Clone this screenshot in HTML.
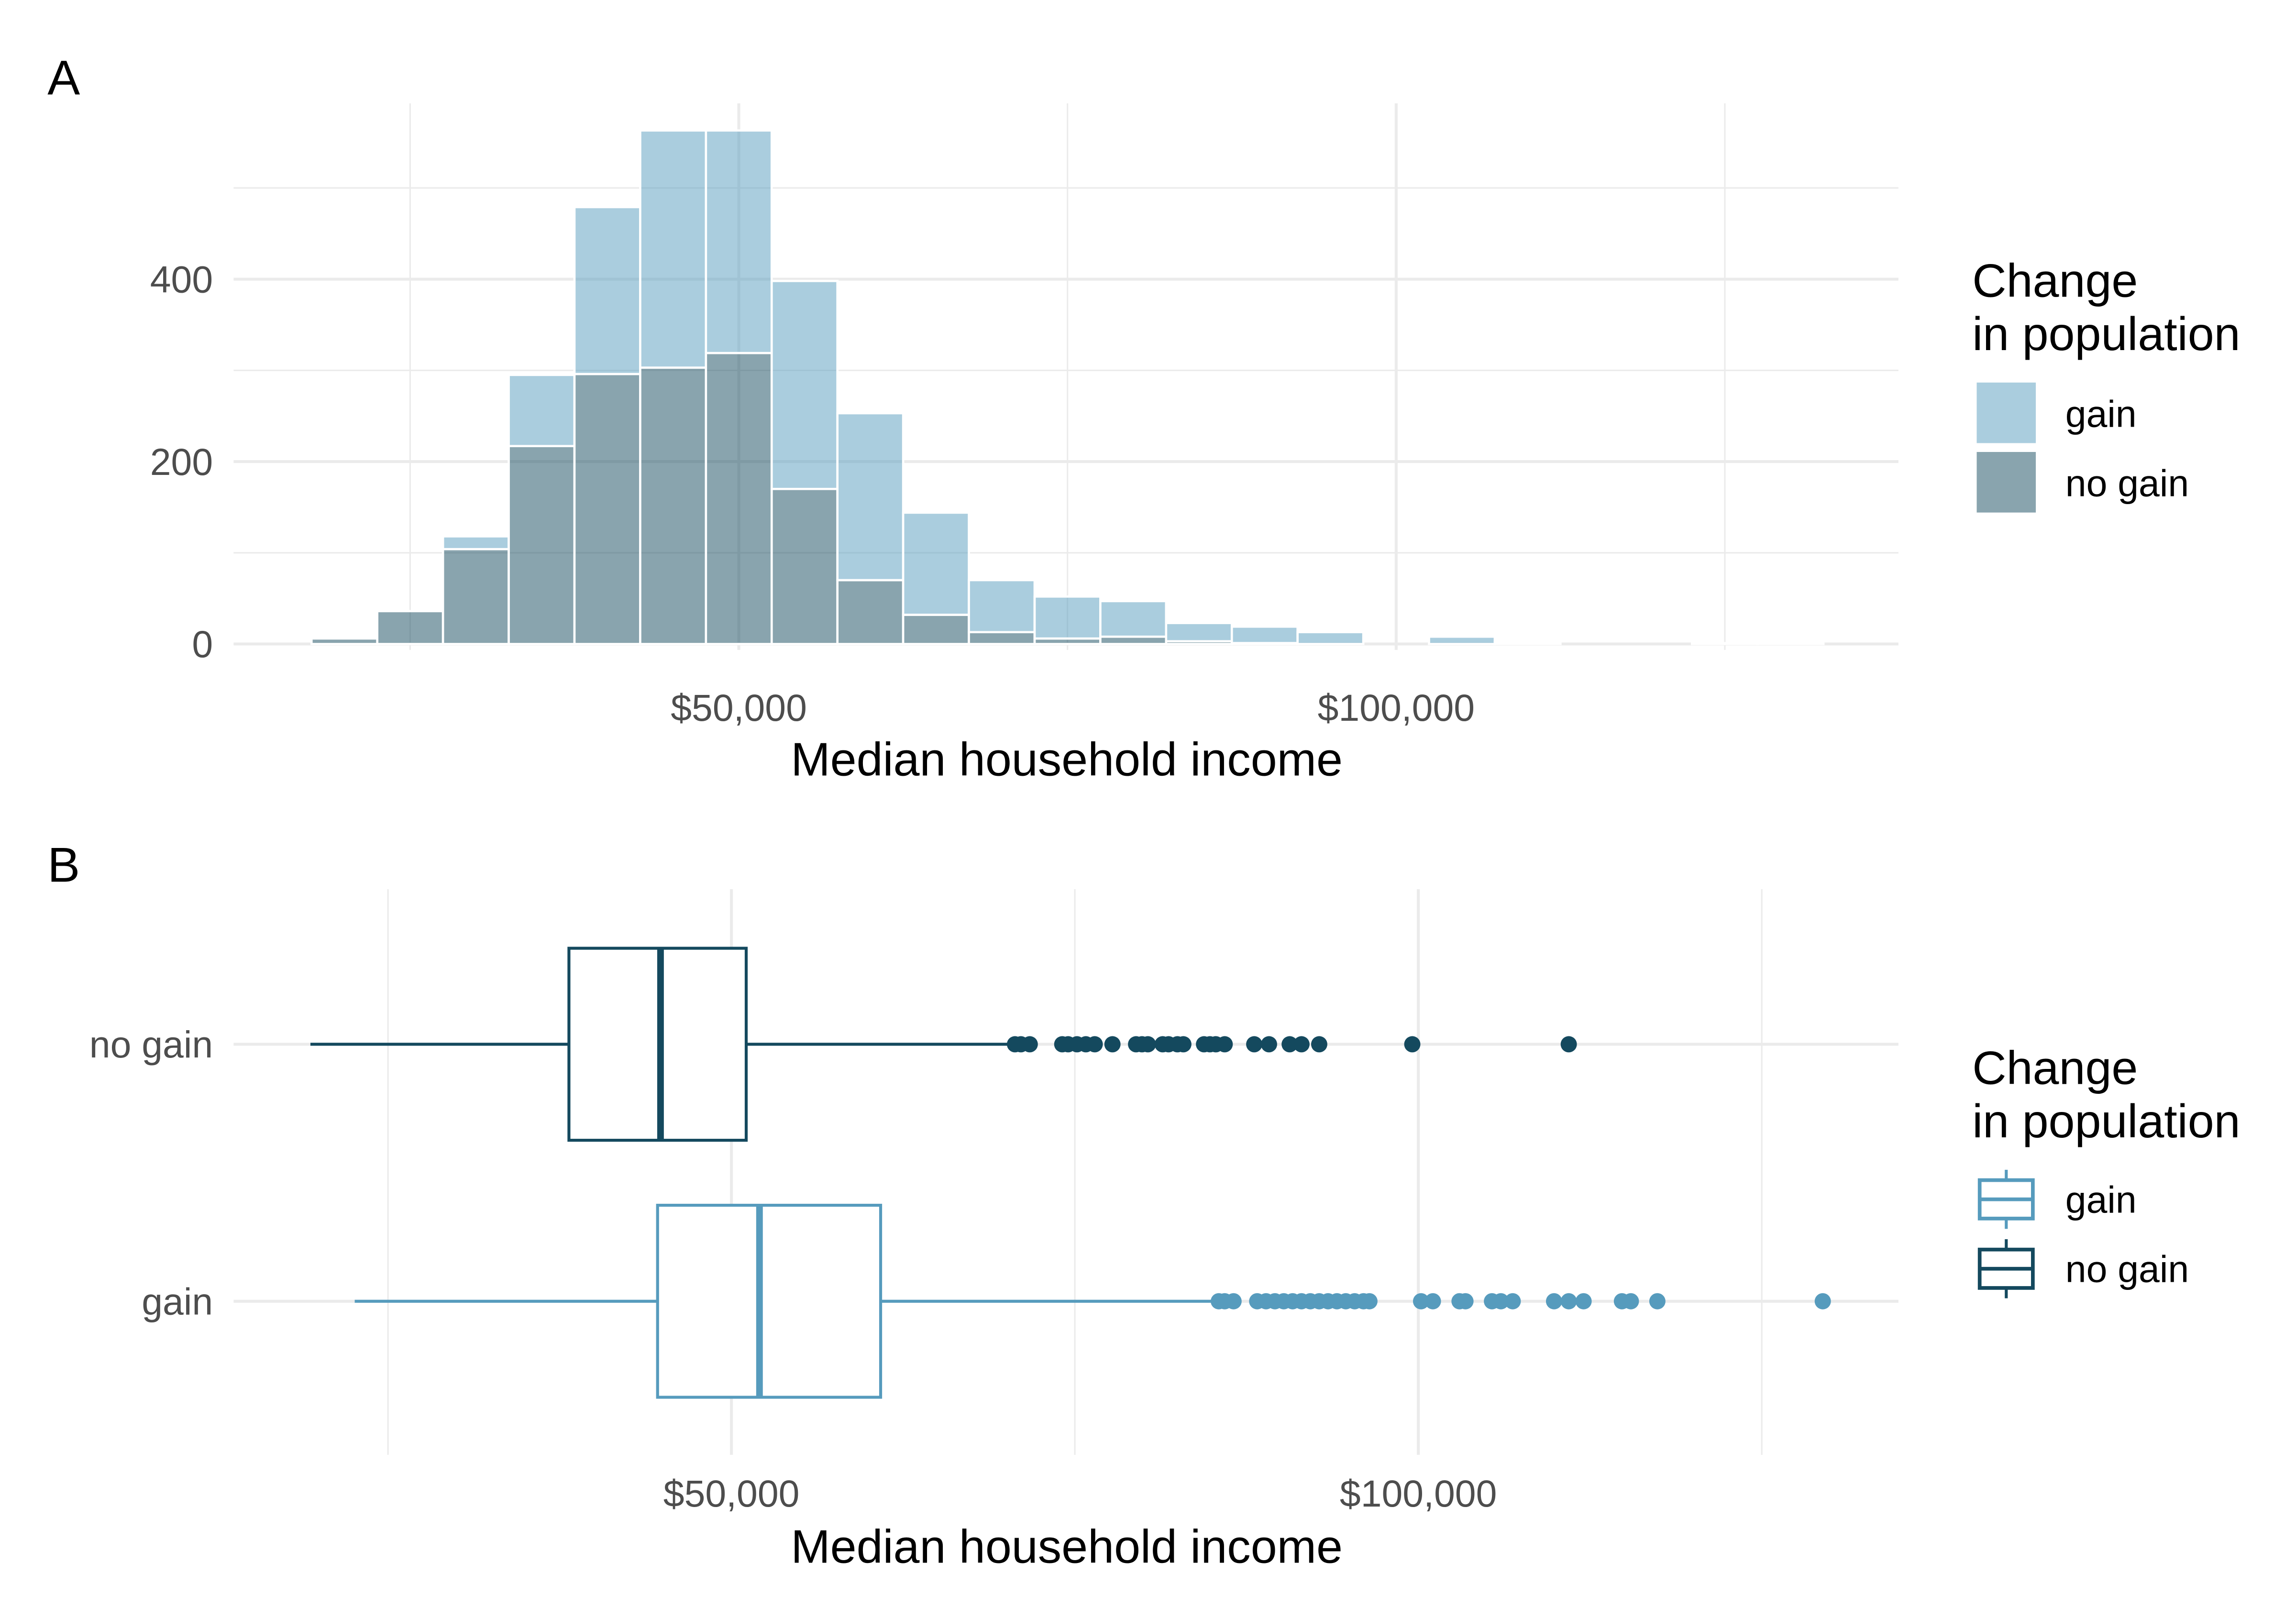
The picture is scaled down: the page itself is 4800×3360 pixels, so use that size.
<!DOCTYPE html>
<html><head><meta charset="utf-8"><style>
html,body{margin:0;padding:0;background:#fff}
svg{display:block;font-family:"Liberation Sans",Arial,sans-serif}
</style></head><body>
<svg id="chart" width="4800" height="3360" viewBox="0 0 1554 1088" xmlns="http://www.w3.org/2000/svg">
<g id="pa"></g>
<g id="pb"></g>
</svg>
<script>
// Panel A histogram data (bin starts, counts)
const binStarts = [17500,22500,27500,32500,37500,42500,47500,52500,57500,62500,67500,72500,77500,82500,87500,92500,97500,102500,107500,112500,117500,122500,127500];
const noGainCounts = [6,36,104,217,296,303,319,170,70,32,13,6,8,3,1,0,0,0,0,0,0,0,0];
const gainCounts   = [0,0,14,78,183,260,244,228,183,112,57,46,39,20,18,13,0,8,2,0,0,1,1];
const histYTicks = [0,200,400];
const histXTicks = [50000,100000];
const histXTickLabels = ["$50,000","$100,000"];
// Panel B boxplot data
const groups = ["no gain","gain"];
const boxStats = [
  [19355,38172,44839,51075,70430],
  [22580,44624,52043,60860,85484]
];
const outliersNoGain = [70640,71070,71715,74080,74510,75155,75800,76445,77735,79455,79885,80315,81390,81820,82465,82895,84400,84830,85260,85905,88055,89130,90635,91495,92785,99560,110950];
const outliersGain = [85475,85905,86550,88270,88915,89560,90205,90850,91495,92140,92785,93430,94075,94720,95365,96010,96440,100200,101060,103000,103430,105360,106010,106870,109880,110950,112030,114820,115470,117400,129440];
const boxXTicks = [50000,100000];
const boxXTickLabels = ["$50,000","$100,000"];

const NS="http://www.w3.org/2000/svg";
function mk(parent,tag,attrs,text){const e=document.createElementNS(NS,tag);for(const k in attrs)e.setAttribute(k,attrs[k]);if(text!==undefined)e.textContent=text;parent.appendChild(e);return e;}
const GAIN="#569bbd", NOGAIN="#14495e", GRID="#ebebeb";
const TICKFS=25.5, TITLEFS=32, LEGFS=25.5;

// ---- Panel A ----
const pa=document.getElementById('pa');
const ax=v=>500+(v-50000)*(445/50000);
const ay=v=>436-v*(123.5/200);
const L=158,R=1285,TA=70,BA=440;
for(const v of [25000,75000,125000]) {const g=mk(pa,'line',{x1:ax(v),x2:ax(v),y1:TA,y2:BA,stroke:GRID,'stroke-width':1});}
for(const v of [100,300,500]) {const g=mk(pa,'line',{x1:L,x2:R,y1:ay(v),y2:ay(v),stroke:GRID,'stroke-width':1});}
histXTicks.forEach(v=>{const g=mk(pa,'line',{x1:ax(v),x2:ax(v),y1:TA,y2:BA,stroke:GRID,'stroke-width':2});});
histYTicks.forEach(v=>{const g=mk(pa,'line',{x1:L,x2:R,y1:ay(v),y2:ay(v),stroke:GRID,'stroke-width':2});
 const t=mk(pa,'text',{x:144,y:ay(v)+9,'text-anchor':'end','font-size':TICKFS,fill:'#4d4d4d'},String(v));});
histXTicks.forEach((v,i)=>{const t=mk(pa,'text',{x:ax(v),y:488,'text-anchor':'middle','font-size':TICKFS,fill:'#4d4d4d'},histXTickLabels[i]);});
binStarts.forEach((b,i)=>{
  const x0=ax(b),x1=ax(b+5000),ng=noGainCounts[i],g=gainCounts[i];
  if(ng+g<=0)return;
  const r1=mk(pa,'rect',{x:x0,y:ay(ng),width:x1-x0,height:ay(0)-ay(ng),fill:NOGAIN,'fill-opacity':0.5,stroke:'#fff','stroke-width':1.5});
  
  if(g>0){const r2=mk(pa,'rect',{x:x0,y:ay(ng+g),width:x1-x0,height:ay(ng)-ay(ng+g),fill:GAIN,'fill-opacity':0.5,stroke:'#fff','stroke-width':1.5});
  }
});
let t=mk(pa,'text',{x:722,y:525,'text-anchor':'middle','font-size':TITLEFS},'Median household income');
t=mk(pa,'text',{x:32,y:64,'font-size':33},'A');
t=mk(pa,'text',{x:1335,y:201,'font-size':TITLEFS},'Change');
t=mk(pa,'text',{x:1335,y:237,'font-size':TITLEFS},'in population');
[[GAIN,'gain',259],[NOGAIN,'no gain',306]].forEach(([c,l,y])=>{
 const r=mk(pa,'rect',{x:1338,y:y,width:40,height:41,fill:c,'fill-opacity':0.5});
 const tt=mk(pa,'text',{x:1398,y:y+30,'font-size':LEGFS},l);});

// ---- Panel B ----
const pb=document.getElementById('pb');
const bx=v=>495+(v-50000)*(465/50000);
const TB=602,BB=985;
const gy=[707,881];
for(const v of [25000,75000,125000]){const g=mk(pb,'line',{x1:bx(v),x2:bx(v),y1:TB,y2:BB,stroke:GRID,'stroke-width':1});}
boxXTicks.forEach((v,i)=>{const g=mk(pb,'line',{x1:bx(v),x2:bx(v),y1:TB,y2:BB,stroke:GRID,'stroke-width':2});
 const tt=mk(pb,'text',{x:bx(v),y:1020,'text-anchor':'middle','font-size':TICKFS,fill:'#4d4d4d'},boxXTickLabels[i]);});
groups.forEach((gname,i)=>{
 const y=gy[i],c=i===0?NOGAIN:GAIN,s=boxStats[i],h=65;
 const gl=mk(pb,'line',{x1:L,x2:R,y1:y,y2:y,stroke:GRID,'stroke-width':2});
 const tl=mk(pb,'text',{x:144,y:y+9,'text-anchor':'end','font-size':TICKFS,fill:'#4d4d4d'},gname);
 const w1=mk(pb,'line',{x1:bx(s[0]),x2:bx(s[1]),y1:y,y2:y,stroke:c,'stroke-width':2});
 const w2=mk(pb,'line',{x1:bx(s[3]),x2:bx(s[4]),y1:y,y2:y,stroke:c,'stroke-width':2});
 const bxr=mk(pb,'rect',{x:bx(s[1]),y:y-h,width:bx(s[3])-bx(s[1]),height:2*h,fill:'#fff',stroke:c,'stroke-width':2});
 const md=mk(pb,'line',{x1:bx(s[2]),x2:bx(s[2]),y1:y-h,y2:y+h,stroke:c,'stroke-width':4.5});
 (i===0?outliersNoGain:outliersGain).forEach(v=>{const p=mk(pb,'circle',{cx:bx(v),cy:y,r:5.5,fill:c});});
});
t=mk(pb,'text',{x:722,y:1058,'text-anchor':'middle','font-size':TITLEFS},'Median household income');
t=mk(pb,'text',{x:32,y:597,'font-size':33},'B');
t=mk(pb,'text',{x:1335,y:734,'font-size':TITLEFS},'Change');
t=mk(pb,'text',{x:1335,y:770,'font-size':TITLEFS},'in population');
[[GAIN,'gain',812],[NOGAIN,'no gain',859]].forEach(([c,l,y])=>{
 const g=mk(pb,'g',{});
 mk(g,'line',{x1:1358,x2:1358,y1:y-20,y2:y+20,stroke:c,'stroke-width':2});
 mk(g,'rect',{x:1340,y:y-13,width:36,height:26,fill:'#fff',stroke:c,'stroke-width':2.5});
 mk(g,'line',{x1:1340,x2:1376,y1:y,y2:y,stroke:c,'stroke-width':2.5});
 const tt=mk(pb,'text',{x:1398,y:y+9,'font-size':LEGFS},l);});
</script>
</body></html>
